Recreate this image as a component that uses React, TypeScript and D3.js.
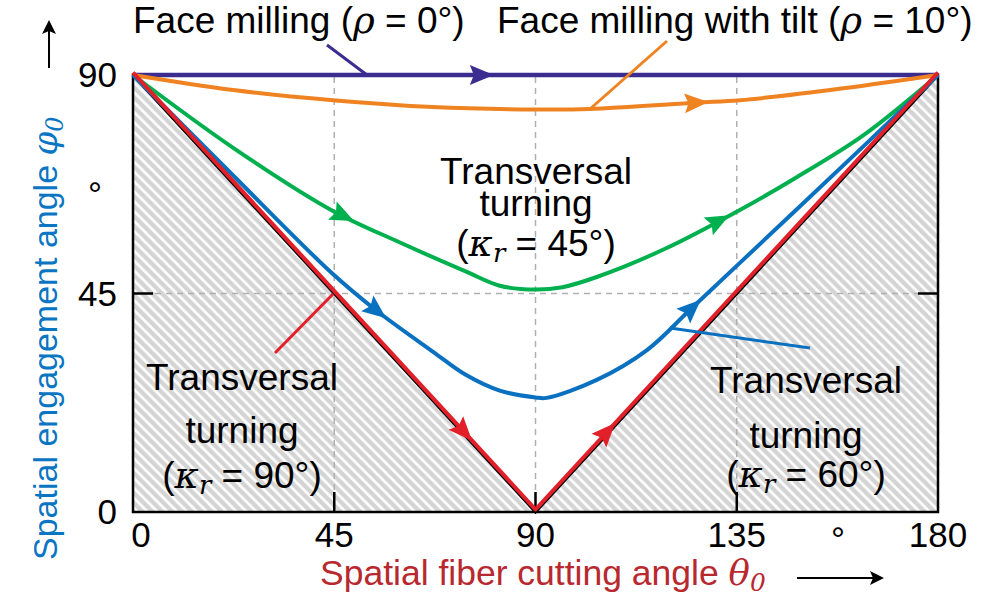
import React from 'react';
import * as d3 from 'd3';

// values (theta0, phi0 in degrees)
const xTicks = [0, 45, 90, 135, 180];
const yTicks = [0, 45, 90];
const gridX = [45, 90, 135];
const gridY = [45];

const faceMilling: [number, number][] = [[0, 90], [180, 90]];
const faceTiltTheta = [0, 22.4, 44.7, 67, 90, 102, 126, 135.7, 155.9, 180];
const faceTiltPhi = [90, 86.9, 84.8, 83.4, 82.9, 83, 84.3, 84.8, 86.9, 90];
const kappa45Theta = [0, 22.4, 44.7, 59.7, 74.5, 82, 90, 96, 103.7, 118.5, 135.7, 148.5, 163.2, 180];
const kappa45Phi = [90, 75.0, 62.0, 55.5, 49.5, 46.6, 45.8, 46.3, 48.4, 54, 62.2, 69, 77.5, 90];
const kappa60Theta = [0, 22.4, 44.7, 54.4, 67.1, 74.5, 82, 90, 92.5, 103.7, 115, 124.5, 135.7, 148.5, 163.2, 180];
const kappa60Phi = [90, 69.3, 49.0, 41.5, 33.0, 28.2, 25.0, 23.6, 23.5, 27.2, 33.4, 41.6, 51.3, 62.4, 75.2, 90];
const kappa90: [number, number][] = [[0, 90], [90, 0], [180, 90]];

const zip = (a: number[], b: number[]) => a.map((v, i) => [v, b[i]] as [number, number]);

const smooth = d3.curveCatmullRom.alpha(0.5);

const series = [
  { name: 'face', color: '#3a2d8f', width: 4.5, pts: faceMilling, arrows: [78], curve: d3.curveLinear },
  { name: 'tilt', color: '#ef8322', width: 4, pts: zip(faceTiltTheta, faceTiltPhi), arrows: [126], curve: smooth },
  { name: 'k45', color: '#00b04f', width: 4, pts: zip(kappa45Theta, kappa45Phi), arrows: [47, 131], curve: smooth },
  { name: 'k60', color: '#0a70c0', width: 4, pts: zip(kappa60Theta, kappa60Phi), arrows: [54.5, 125], curve: smooth },
  { name: 'k90', color: '#e2202a', width: 4, pts: kappa90, arrows: [74, 106], curve: d3.curveLinear },
];

const W = 996, H = 599;
const font = '"Liberation Sans", Arial, sans-serif';
const mathFont = '"DejaVu Serif", "Liberation Serif", serif';

function interp(pts: [number, number][], t: number) {
  for (let i = 0; i < pts.length - 1; i++) {
    const [x0, y0] = pts[i], [x1, y1] = pts[i + 1];
    if (t >= x0 && t <= x1) return y0 + (y1 - y0) * (t - x0) / (x1 - x0);
  }
  return pts[pts.length - 1][1];
}

const MathSym = ({ s, sub }: { s: string; sub?: string }) => (
  <>
    <tspan fontFamily={mathFont} fontStyle="italic">{s}</tspan>
    {sub && <tspan fontFamily={mathFont} fontStyle="italic" fontSize="0.7em" dy="6">{sub}</tspan>}
    {sub && <tspan dy="-6"> </tspan>}
  </>
);

export default function App() {
  const x = d3.scaleLinear().domain([0, 180]).range([133, 938]);
  const y = d3.scaleLinear().domain([0, 90]).range([512, 75]);

  const area = d3.area<[number, number]>().x(d => x(d[0])).y0(y(0)).y1(d => y(d[1]));

  const arrowHead = (pts: [number, number][], t: number, color: string, key: string) => {
    const dt = 2.5;
    const p0 = [x(t - dt), y(interp(pts, t - dt))];
    const p1 = [x(t + dt), y(interp(pts, t + dt))];
    const ang = Math.atan2(p1[1] - p0[1], p1[0] - p0[0]) * 180 / Math.PI;
    const cx = x(t), cy = y(interp(pts, t));
    return (
      <path key={key} d="M12,0 L-12,-10 L-8,0 L-12,10 Z" fill={color}
        transform={`translate(${cx},${cy}) rotate(${ang})`} />
    );
  };

  return (
    <svg width={W} height={H} style={{ position: 'absolute', left: 0, top: 0, background: '#fff' }}
      fontFamily={font}>
      <defs>
        <pattern id="hatch" patternUnits="userSpaceOnUse" width="7" height="7" patternTransform="rotate(-45)">
          <rect width="7" height="7" fill="#d4d4d4" />
          <line x1="1.5" y1="0" x2="1.5" y2="7" stroke="#fff" strokeWidth="2.6" />
        </pattern>
      </defs>

      {/* shaded infeasible region */}
      <path d={area(kappa90) || ''} fill="url(#hatch)" />

      {/* grid */}
      {gridX.map(g => (
        <line key={'gx' + g} x1={x(g)} x2={x(g)} y1={y(0)} y2={y(90)} stroke="#b0b0b0" strokeWidth={1.5} strokeDasharray="6,5" />
      ))}
      {gridY.map(g => (
        <line key={'gy' + g} x1={x(0)} x2={x(180)} y1={y(g)} y2={y(g)} stroke="#b0b0b0" strokeWidth={1.5} strokeDasharray="6,5" />
      ))}

      {/* frame and ticks */}
      <rect x={x(0)} y={y(90)} width={x(180) - x(0)} height={y(0) - y(90)} fill="none" stroke="#000" strokeWidth={2.5} />
      {gridX.map(g => (
        <line key={'tx' + g} x1={x(g)} x2={x(g)} y1={y(0)} y2={y(0) - 20} stroke="#000" strokeWidth={2.5} />
      ))}
      {gridY.map(g => (
        <g key={'ty' + g}>
          <line x1={x(0)} x2={x(0) + 20} y1={y(g)} y2={y(g)} stroke="#000" strokeWidth={2.5} />
          <line x1={x(180)} x2={x(180) - 20} y1={y(g)} y2={y(g)} stroke="#000" strokeWidth={2.5} />
        </g>
      ))}

      {/* boundary V line */}
      <path d={d3.line<[number, number]>().x(d => x(d[0])).y(d => y(d[1]))(kappa90) || ''} fill="none" stroke="#000" strokeWidth={3} />

      {/* curves */}
      {series.map(s => {
        const line = d3.line<[number, number]>().x(d => x(d[0])).y(d => y(d[1])).curve(s.curve);
        const shift = s.name === 'k90' ? 'translate(0,-2.5)' : undefined;
        return (
          <g key={s.name} transform={shift}>
            <path d={line(s.pts) || ''} fill="none" stroke={s.color} strokeWidth={s.width} strokeLinejoin="round" />
            {s.arrows.map((t, i) => arrowHead(s.pts, t, s.color, s.name + i))}
          </g>
        );
      })}

      {/* leader lines */}
      <line x1={327} y1={45} x2={367} y2={75} stroke="#3a2d8f" strokeWidth={3} />
      <line x1={667} y1={41} x2={590} y2={109} stroke="#ef8322" strokeWidth={3} />
      <line x1={333} y1={294} x2={275} y2={353} stroke="#e2202a" strokeWidth={3} />
      <line x1={670} y1={328} x2={810} y2={348} stroke="#0a70c0" strokeWidth={3} />

      {/* annotations */}
      <g fontSize={37} fill="#000">
        <text x={133} y={33}>Face milling (<MathSym s="ρ" /> = 0°)</text>
        <text x={497} y={33}>Face milling with tilt (<MathSym s="ρ" /> = 10°)</text>

        <g textAnchor="middle">
          <text x={536} y={184}>Transversal</text>
          <text x={536} y={216}>turning</text>
          <text x={536} y={256}>(<MathSym s="κ" sub="r" />= 45°)</text>

          <text x={242} y={390}>Transversal</text>
          <text x={242} y={443}>turning</text>
          <text x={242} y={488}>(<MathSym s="κ" sub="r" />= 90°)</text>

          <text x={806} y={393}>Transversal</text>
          <text x={806} y={448}>turning</text>
          <text x={806} y={487}>(<MathSym s="κ" sub="r" />= 60°)</text>
        </g>
      </g>

      {/* tick labels */}
      <g fontSize={35} fill="#000">
        {yTicks.map(t => (
          <text key={'yl' + t} x={117} y={y(t) + 12} textAnchor="end">{t}</text>
        ))}
        <text x={95} y={207} textAnchor="middle">°</text>
        {xTicks.map(t => (
          <text key={'xl' + t} x={x(t) + (t === 0 ? 8 : 0)} y={547} textAnchor="middle">{t}</text>
        ))}
        <text x={838} y={552} textAnchor="middle">°</text>
      </g>

      {/* axis titles */}
      <text x={320} y={585} fontSize={35.5} fill="#b8292f">
        Spatial fiber cutting angle <MathSym s="θ" sub="0" />
      </text>
      <line x1={797} x2={878} y1={578} y2={578} stroke="#000" strokeWidth={2} />
      <path d="M884,578 L870,571 L873,578 L870,585 Z" fill="#000" />

      <text transform="translate(57,560) rotate(-90)" fontSize={34} fill="#0a75c2">
        Spatial engagement angle <MathSym s="φ" sub="0" />
      </text>
      <line x1={49} x2={49} y1={68} y2={26} stroke="#000" strokeWidth={2} />
      <path d="M49,20 L42,34 L49,31 L56,34 Z" fill="#000" />
    </svg>
  );
}
